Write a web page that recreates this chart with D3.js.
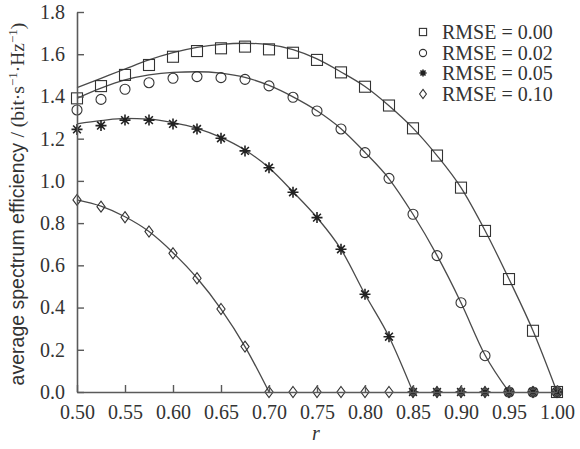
<!DOCTYPE html>
<html><head><meta charset="utf-8">
<script src="https://cdn.jsdelivr.net/npm/d3@7"></script>
<style>body{margin:0;background:#fff}</style>
</head><body>
<svg id="c" width="580" height="449"></svg>
<script>
// ---- data ----
const rValues = [0.50,0.525,0.55,0.575,0.60,0.625,0.65,0.675,0.70,0.725,0.75,0.775,0.80,0.825,0.85,0.875,0.90,0.925,0.95,0.975,1.00];
// simulated points (markers)
const simRmse000 = [1.391,1.449,1.502,1.549,1.588,1.615,1.628,1.636,1.623,1.607,1.573,1.514,1.446,1.357,1.249,1.120,0.968,0.763,0.535,0.290,0.000];
const simRmse002 = [1.336,1.386,1.434,1.465,1.486,1.494,1.489,1.481,1.450,1.396,1.331,1.246,1.134,1.012,0.842,0.646,0.423,0.172,0.000,0.000,0.000];
const simRmse005 = [1.244,1.262,1.288,1.288,1.270,1.246,1.202,1.142,1.062,0.946,0.826,0.676,0.463,0.262,0.000,0.000,0.000,0.000,0.000,0.000,0.000];
const simRmse010 = [0.910,0.878,0.828,0.760,0.657,0.539,0.393,0.215,0.000,0.000,0.000,0.000,0.000,0.000,0.000,0.000,0.000,0.000,0.000,0.000,0.000];
// theoretical curves (lines), values on the same r grid until they reach zero
const thRmse000 = [1.442,1.486,1.530,1.573,1.607,1.632,1.647,1.652,1.645,1.622,1.578,1.516,1.447,1.356,1.250,1.120,0.968,0.765,0.535,0.290,0.000];
const thRmse002 = [1.391,1.439,1.478,1.502,1.514,1.517,1.510,1.490,1.452,1.398,1.332,1.247,1.135,1.010,0.842,0.647,0.423,0.175,0.000];
const thRmse005 = [1.270,1.285,1.296,1.293,1.276,1.249,1.206,1.146,1.062,0.948,0.826,0.676,0.463,0.262,0.000];
const thRmse010 = [0.910,0.880,0.830,0.760,0.660,0.540,0.393,0.215,0.000];
const seriesNames = ["RMSE = 0.00","RMSE = 0.02","RMSE = 0.05","RMSE = 0.10"];
const markerTypes = ["square","circle","star","diamond"];
const xTicks = [0.50,0.55,0.60,0.65,0.70,0.75,0.80,0.85,0.90,0.95,1.00];
const yTicks = [0.0,0.2,0.4,0.6,0.8,1.0,1.2,1.4,1.6,1.8];

// ---- drawing ----
const svg = d3.select("#c");
const x = d3.scaleLinear().domain([0.5,1.0]).range([77,557]);
const y = d3.scaleLinear().domain([0,1.8]).range([392,12]);
const ink = "#333", lineCol = "#4a4a4a", axisCol = "#5a5a5a";
const serif = "'Liberation Serif','Times New Roman',serif";
const sans = "'Liberation Sans',Arial,sans-serif";

const sims = [simRmse000,simRmse002,simRmse005,simRmse010];
const ths = [thRmse000,thRmse002,thRmse005,thRmse010];

const line = d3.line().x((d,i)=>x(rValues[i])).y(d=>y(d)).curve(d3.curveMonotoneX);
ths.forEach(t=>{
  svg.append("path").attr("d", line(t)).attr("fill","none")
    .attr("stroke",lineCol).attr("stroke-width",1.3);
});

function drawMarker(g, type, cx, cy, s) {
  if (type==="square") {
    g.append("rect").attr("x",cx-s).attr("y",cy-s).attr("width",2*s).attr("height",2*s)
      .attr("fill","none").attr("stroke",ink).attr("stroke-width",1.1);
  } else if (type==="circle") {
    g.append("circle").attr("cx",cx).attr("cy",cy).attr("r",s)
      .attr("fill","none").attr("stroke",ink).attr("stroke-width",1.1);
  } else if (type==="diamond") {
    const w=s*0.85, h=s*1.15;
    g.append("path").attr("d",`M${cx},${cy-h}L${cx+w},${cy}L${cx},${cy+h}L${cx-w},${cy}Z`)
      .attr("fill","none").attr("stroke",ink).attr("stroke-width",1.1);
  } else {
    let d="";
    for (let k=0;k<4;k++){
      const a=k*Math.PI/4, dx=Math.cos(a)*s, dy=Math.sin(a)*s;
      d+=`M${cx-dx},${cy-dy}L${cx+dx},${cy+dy}`;
    }
    g.append("path").attr("d",d).attr("stroke","#222").attr("stroke-width",1.6);
    g.append("circle").attr("cx",cx).attr("cy",cy).attr("r",s*0.35).attr("fill","#222");
  }
}

const mg = svg.append("g");
sims.forEach((s,k)=>{
  s.forEach((v,i)=>{
    const size = markerTypes[k]==="square"?5.5:(markerTypes[k]==="circle"?5:(markerTypes[k]==="star"?5.5:4.8));
    drawMarker(mg, markerTypes[k], x(rValues[i]), y(v), size);
  });
});

// axes
const xAxis = d3.axisBottom(x).tickValues(xTicks).tickFormat(d3.format(".2f"))
  .tickSizeInner(-7).tickSizeOuter(0).tickPadding(13);
const gx = svg.append("g").attr("transform","translate(0,392)").call(xAxis);
const yAxis = d3.axisLeft(y).tickValues(yTicks).tickFormat(d3.format(".1f"))
  .tickSizeInner(-7).tickSizeOuter(0).tickPadding(12);
const gy = svg.append("g").attr("transform","translate(77,0)").call(yAxis);
[gx,gy].forEach(g=>{
  g.select(".domain").attr("stroke",axisCol).attr("stroke-width",1.6);
  g.selectAll(".tick line").attr("stroke",axisCol).attr("stroke-width",1.4);
  g.selectAll(".tick text").attr("fill",ink).style("font-family",serif).style("font-size","20px");
});

// axis titles
svg.append("text").attr("x",316).attr("y",440).attr("text-anchor","middle")
  .style("font-family",serif).style("font-style","italic").style("font-size","20px")
  .attr("fill",ink).text("r");

const yl = svg.append("text").attr("transform","translate(24,204) rotate(-90)")
  .attr("text-anchor","middle").attr("fill",ink).style("font-size","19.5px");
yl.append("tspan").style("font-family",sans).text("average spectrum efficiency ");
yl.append("tspan").style("font-family",serif).text("/ (bit·s");
yl.append("tspan").style("font-family",serif).style("font-size","13px").attr("dy",-7).text("−1");
yl.append("tspan").style("font-family",serif).attr("dy",7).text("·Hz");
yl.append("tspan").style("font-family",serif).style("font-size","13px").attr("dy",-7).text("−1");
yl.append("tspan").style("font-family",serif).attr("dy",7).text(")");

// legend
const lg = svg.append("g");
const legendY = [32,53,73,94];
seriesNames.forEach((n,k)=>{
  drawMarker(lg, markerTypes[k], 423, legendY[k], markerTypes[k]==="diamond"?4:3.6);
  lg.append("text").attr("x",442).attr("y",legendY[k]+7).attr("fill",ink)
    .style("font-family",serif).style("font-size","20px").text(n);
});
</script>
</body></html>
